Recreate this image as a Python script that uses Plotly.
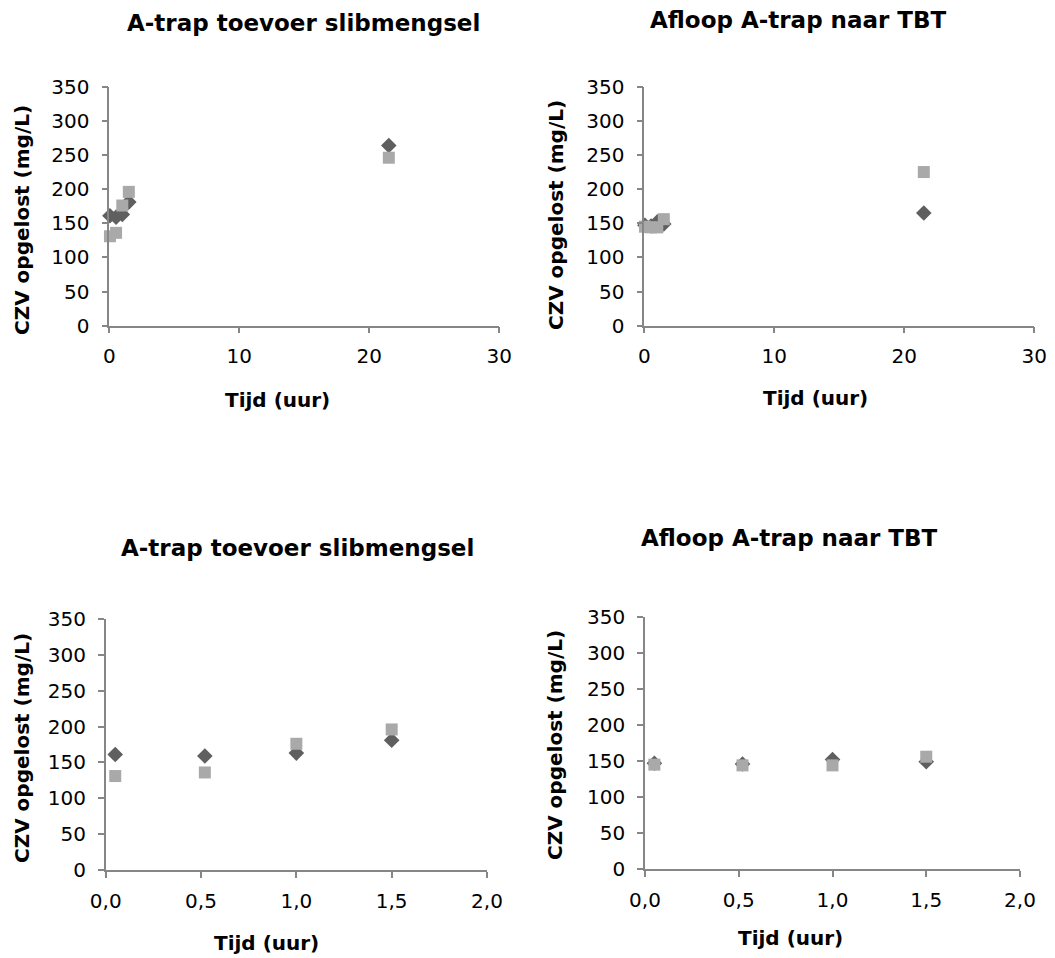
import plotly.graph_objects as go

# Sampling times (hours)
tijd = [0.05, 0.52, 1.0, 1.5, 21.5]

# Dissolved COD (mg/L), two series per sampling location
toevoer_reeks1 = [161, 159, 163, 181, 264]
toevoer_reeks2 = [131, 136, 176, 196, 246]
afloop_reeks1 = [147, 146, 152, 149, 165]
afloop_reeks2 = [145, 144, 144, 156, 225]

titels = ["A-trap toevoer slibmengsel", "Afloop A-trap naar TBT"]
y_titel = "CZV opgelost (mg/L)"
x_titel = "Tijd (uur)"

W, H = 1055, 958
FONT = "DejaVu Sans"
AXIS_COL = "#868686"
DONKER = "#5f5f5f"
LICHT = "#a9a9a9"


def px_x(p):
    return p / W


def px_y(p):
    return 1 - p / H


# panel boxes in pixels: (left, right, top, bottom)
panels = [
    (109.3, 499.3, 86.7, 325.7),
    (644.3, 1034.3, 86.7, 325.7),
    (105.7, 487.0, 619.0, 870.0),
    (645.0, 1020.0, 616.7, 869.3),
]

fig = go.Figure()

series = [
    (toevoer_reeks1, toevoer_reeks2),
    (afloop_reeks1, afloop_reeks2),
    (toevoer_reeks1, toevoer_reeks2),
    (afloop_reeks1, afloop_reeks2),
]

for i, (r1, r2) in enumerate(series):
    ax = "" if i == 0 else str(i + 1)
    full = i < 2
    xs = [t for t in tijd if full or t <= 2]
    n = len(xs)
    fig.add_trace(go.Scatter(
        x=xs, y=r1[:n], mode="markers", xaxis="x" + ax, yaxis="y" + ax,
        marker=dict(symbol="diamond", size=12, color=DONKER),
        cliponaxis=False, showlegend=False))
    fig.add_trace(go.Scatter(
        x=xs, y=r2[:n], mode="markers", xaxis="x" + ax, yaxis="y" + ax,
        marker=dict(symbol="square", size=12, color=LICHT),
        cliponaxis=False, showlegend=False))

layout = dict(
    width=W, height=H,
    margin=dict(l=0, r=0, t=0, b=0, autoexpand=False),
    paper_bgcolor="white", plot_bgcolor="white",
    separators=",.",
    font=dict(family=FONT, size=20, color="#000000"),
    showlegend=False,
)

for i, (l, r, t, b) in enumerate(panels):
    ax = "" if i == 0 else str(i + 1)
    full = i < 2
    common = dict(
        showline=True, linecolor=AXIS_COL, linewidth=1.5,
        ticks="outside", ticklen=6, tickcolor=AXIS_COL, tickwidth=1.5,
        showgrid=False, zeroline=False, automargin=False,
        tickfont=dict(family=FONT, size=20, color="#000000"),
    )
    layout["xaxis" + ax] = dict(
        common, domain=[px_x(l), px_x(r)], anchor="y" + ax,
        range=[0, 30] if full else [0, 2],
        dtick=10 if full else 0.5,
        tickformat="d" if full else ".1f",
        ticklabelstandoff=6,
    )
    layout["yaxis" + ax] = dict(
        common, domain=[px_y(b), px_y(t)], anchor="x" + ax,
        range=[0, 350], dtick=50, ticklabelstandoff=8,
    )

fig.update_layout(**layout)

# chart titles and axis titles
titel_pos = [(303, 23), (798, 20), (297, 548), (789, 538)]
xtitel_pos = [(277, 400), (815, 398), (266, 943), (790, 938)]
ytitel_pos = [(22, 220), (556, 215), (22, 748), (555, 745)]

for i in range(4):
    tx, ty = titel_pos[i]
    fig.add_annotation(
        x=px_x(tx), y=px_y(ty), xref="paper", yref="paper",
        text="<b>%s</b>" % titels[i % 2], showarrow=False,
        xanchor="center", yanchor="middle",
        font=dict(family=FONT, size=23, color="#000000"))
    xx, xy = xtitel_pos[i]
    fig.add_annotation(
        x=px_x(xx), y=px_y(xy), xref="paper", yref="paper",
        text="<b>%s</b>" % x_titel, showarrow=False,
        xanchor="center", yanchor="middle",
        font=dict(family=FONT, size=20, color="#000000"))
    yx, yy = ytitel_pos[i]
    fig.add_annotation(
        x=px_x(yx), y=px_y(yy), xref="paper", yref="paper",
        text="<b>%s</b>" % y_titel, showarrow=False, textangle=-90,
        xanchor="center", yanchor="middle",
        font=dict(family=FONT, size=20, color="#000000"))

fig.write_html("out.html")
